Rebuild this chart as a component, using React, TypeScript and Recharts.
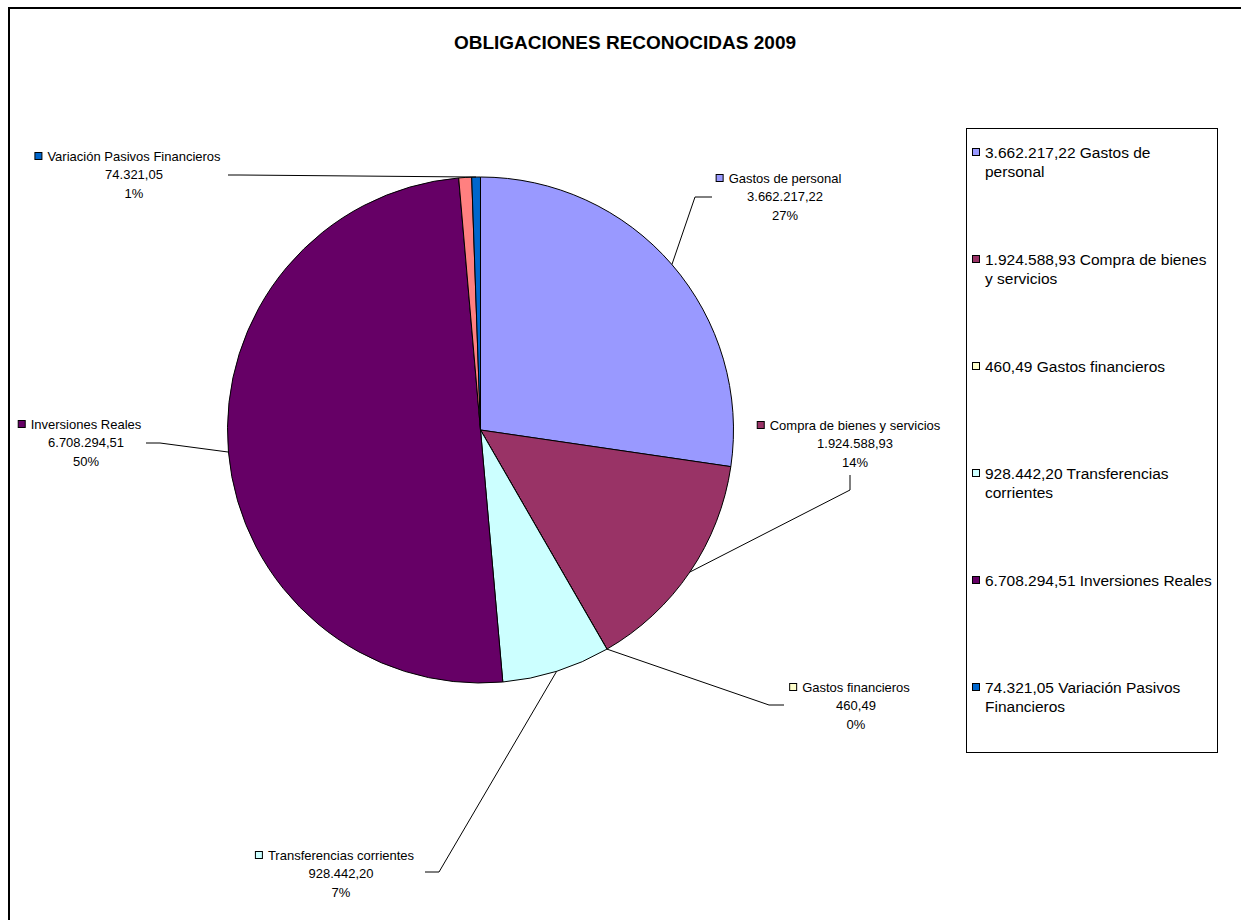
import React from "react";
import { PieChart, Pie, Cell, Legend } from "recharts";

// Data (values in euros)
const CATEGORIES = [
  "Gastos de personal",
  "Compra de bienes y servicios",
  "Gastos financieros",
  "Transferencias corrientes",
  "Inversiones Reales",
  "Transferencias de capital",
  "Variación Pasivos Financieros",
];
const VALUES = [3662217.22, 1924588.93, 460.49, 928442.2, 6708294.51, 110000, 74321.05];
// the pink slice has no label and no legend entry in the original
const HIDDEN = "Transferencias de capital";

const COLORS = ["#9999FF", "#993366", "#FFFFCC", "#CCFFFF", "#660066", "#FF8080", "#0066CC"];

const data = CATEGORIES.map((name, i) => ({ name, value: VALUES[i] }));

// where each data label sits (text centre, first line) and how its leader line bends
const LABEL_SPOTS: Record<string, { x: number; y: number; elbow: number[]; end: number[] }> = {
  "Gastos de personal": { x: 785, y: 178, elbow: [695, 197], end: [712, 197] },
  "Compra de bienes y servicios": { x: 855, y: 425, elbow: [850, 490], end: [850, 475] },
  "Gastos financieros": { x: 856, y: 687, elbow: [769, 705], end: [784, 705] },
  "Transferencias corrientes": { x: 341, y: 855, elbow: [439, 872], end: [425, 872] },
  "Inversiones Reales": { x: 86, y: 424, elbow: [160, 443], end: [146, 443] },
  "Variación Pasivos Financieros": { x: 134, y: 156, elbow: [240, 175], end: [228, 175] },
};

const FONT = '"Liberation Sans", Arial, sans-serif';
const LABEL_SIZE = 13;

function fmtEs(v: number) {
  const [i, d] = v.toFixed(2).split(".");
  return i.replace(/\B(?=(\d{3})+(?!\d))/g, ".") + "," + d;
}

let measureCtx: CanvasRenderingContext2D | null = null;
function textWidth(s: string) {
  if (!measureCtx) measureCtx = document.createElement("canvas").getContext("2d");
  if (!measureCtx) return s.length * 6.5;
  measureCtx.font = `${LABEL_SIZE}px ${FONT}`;
  return measureCtx.measureText(s).width;
}

const renderLabel = (p: any) => {
  const name = p.name ?? p.payload?.name;
  const spot = LABEL_SPOTS[name];
  if (!spot) return null;
  const rad = Math.PI / 180;
  const ex = p.cx + p.outerRadius * Math.cos(-p.midAngle * rad);
  const ey = p.cy + p.outerRadius * Math.sin(-p.midAngle * rad);
  const w = textWidth(name);
  const idx = CATEGORIES.indexOf(name);
  return (
    <g>
      <polyline
        points={`${ex},${ey} ${spot.elbow.join(",")} ${spot.end.join(",")}`}
        fill="none"
        stroke="#000"
        strokeWidth={1}
      />
      <rect
        x={spot.x - w / 2 - 12.5}
        y={spot.y - 3.5}
        width={7}
        height={7}
        fill={COLORS[idx]}
        stroke="#000"
        strokeWidth={1}
      />
      <text x={spot.x} y={spot.y} textAnchor="middle" dominantBaseline="central" fontSize={LABEL_SIZE} fontFamily={FONT} fill="#000">
        {name}
      </text>
      <text x={spot.x} y={spot.y + 18.5} textAnchor="middle" dominantBaseline="central" fontSize={LABEL_SIZE} fontFamily={FONT} fill="#000">
        {fmtEs(p.value)}
      </text>
      <text x={spot.x} y={spot.y + 37} textAnchor="middle" dominantBaseline="central" fontSize={LABEL_SIZE} fontFamily={FONT} fill="#000">
        {`${Math.round(p.percent * 100)}%`}
      </text>
    </g>
  );
};

const renderLegend = () => (
  <div
    style={{
      width: 252,
      height: 625,
      boxSizing: "border-box",
      border: "1px solid #000",
      background: "#fff",
      overflow: "hidden",
      fontFamily: FONT,
    }}
  >
    {CATEGORIES.map((c, i) =>
      c === HIDDEN ? null : (
        <div key={c} style={{ position: "relative", height: 107, paddingTop: 13.5, paddingLeft: 18, boxSizing: "border-box" }}>
          <span
            style={{
              position: "absolute",
              left: 5,
              top: 19,
              width: 6,
              height: 6,
              border: "1px solid #000",
              background: COLORS[i],
            }}
          />
          <div style={{ width: 228, fontSize: 15.5, lineHeight: "19px", color: "#000" }}>
            {`${fmtEs(VALUES[i])} ${c}`}
          </div>
        </div>
      )
    )}
  </div>
);

export default function App() {
  return (
    <div
      style={{
        position: "fixed",
        left: 0,
        top: 0,
        width: 1241,
        height: 920,
        overflow: "hidden",
        background: "#fff",
        fontFamily: FONT,
      }}
    >
      <div
        style={{
          position: "absolute",
          left: 8,
          top: 7,
          width: 1400,
          height: 1100,
          borderLeft: "2px solid #000",
          borderTop: "2px solid #000",
        }}
      />
      <div
        style={{
          position: "absolute",
          left: 425,
          top: 32,
          width: 400,
          textAlign: "center",
          fontSize: 19,
          lineHeight: "22px",
          fontWeight: "bold",
          color: "#000",
        }}
      >
        OBLIGACIONES RECONOCIDAS 2009
      </div>
      <div style={{ position: "absolute", left: 0, top: 0 }}>
        <PieChart width={1241} height={920} margin={{ top: 0, right: 0, bottom: 0, left: 0 }}>
          <Pie
            data={data}
            dataKey="value"
            nameKey="name"
            cx={480.5}
            cy={430}
            outerRadius={253}
            startAngle={90}
            endAngle={-270}
            stroke="#000"
            strokeWidth={1}
            label={renderLabel}
            labelLine={false}
            isAnimationActive={false}
          >
            {data.map((d, i) => (
              <Cell key={d.name} fill={COLORS[i]} />
            ))}
          </Pie>
          <Legend
            content={renderLegend}
            layout="vertical"
            align="right"
            verticalAlign="top"
            wrapperStyle={{ left: 966, top: 128, right: "auto", width: 252, height: 625 }}
          />
        </PieChart>
      </div>
    </div>
  );
}
